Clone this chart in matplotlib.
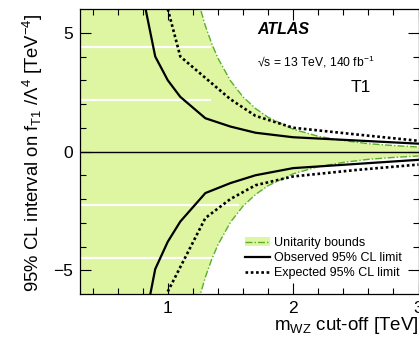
import matplotlib
matplotlib.use("Agg")
import matplotlib.pyplot as plt
from matplotlib.patches import Patch
from matplotlib.lines import Line2D

plt.rcParams['font.family'] = ['Liberation Sans', 'DejaVu Sans']
plt.rcParams['mathtext.fontset'] = 'custom'
plt.rcParams['mathtext.rm'] = 'Liberation Sans'
plt.rcParams['mathtext.it'] = 'Liberation Sans:italic'
plt.rcParams['mathtext.bf'] = 'Liberation Sans:bold'

# --- data ---
ub_mass = [0.3, 1.0, 1.1, 1.15, 1.2, 1.25, 1.3, 1.35, 1.4, 1.5, 1.6, 1.7, 1.8, 2.0, 2.2, 2.4, 2.6, 2.8, 3.0]
ub_val = [20.0, 15.1, 10.3, 8.63, 7.28, 6.19, 5.29, 4.55, 3.93, 2.98, 2.30, 1.81, 1.44, 0.94, 0.64, 0.46, 0.33, 0.25, 0.19]

obs_up_mass = [0.8, 0.9, 1.0, 1.1, 1.3, 1.5, 1.7, 2.0, 3.0]
obs_up_val = [6.6, 4.0, 3.0, 2.3, 1.4, 1.05, 0.79, 0.60, 0.33]
obs_lo_mass = [0.85, 0.9, 1.0, 1.1, 1.3, 1.5, 1.7, 2.0, 3.0]
obs_lo_val = [-6.3, -4.95, -3.8, -2.95, -1.75, -1.33, -1.0, -0.70, -0.35]

exp_up_mass = [1.0, 1.1, 1.3, 1.5, 1.7, 2.0, 2.5, 3.0]
exp_up_val = [6.0, 4.0, 3.1, 2.2, 1.5, 1.0, 0.72, 0.45]
exp_lo_mass = [1.0, 1.3, 1.5, 1.7, 2.0, 2.5, 3.0]
exp_lo_val = [-5.9, -2.8, -2.0, -1.42, -1.05, -0.78, -0.55]

# white scan stripes seen in the shaded band: (y, x_end)
stripe_y = [4.41, 2.18, -2.27, -4.5]
stripe_xend = [1.34, 1.34, 1.56, 1.355]

fill_col = '#def5a2'
green_col = '#5aae2e'
dashdot = (0, (5, 1.5, 1, 1.5))

fig = plt.figure(figsize=(4.19, 3.37), dpi=100)
ax = fig.add_axes([80/419, 1 - 294/337, 338.5/419, 285/337])

ax.fill_between(ub_mass, [-v for v in ub_val], ub_val, color=fill_col, lw=0, zorder=1)
for y, xe in zip(stripe_y, stripe_xend):
    ax.plot([0.3, xe], [y, y], color='white', lw=1.6, zorder=1.5)
ax.plot(ub_mass, ub_val, color=green_col, lw=1.0, ls=dashdot, zorder=2)
ax.plot(ub_mass, [-v for v in ub_val], color=green_col, lw=1.0, ls=dashdot, zorder=2)

ax.axhline(0, color='black', lw=1.0, zorder=2)

ax.plot(obs_up_mass, obs_up_val, color='black', lw=1.6, zorder=3)
ax.plot(obs_lo_mass, obs_lo_val, color='black', lw=1.6, zorder=3)
ax.plot(exp_up_mass, exp_up_val, color='black', lw=1.9, ls=(0, (1, 1)), zorder=3)
ax.plot(exp_lo_mass, exp_lo_val, color='black', lw=1.9, ls=(0, (1, 1)), zorder=3)

ax.set_xlim(0.3, 3.0)
ax.set_ylim(-6, 6)
ax.set_xticks([1, 2, 3])
ax.set_xticklabels(['1', '2', '3'])
ax.set_xticks([0.4, 0.6, 0.8, 1.2, 1.4, 1.6, 1.8, 2.2, 2.4, 2.6, 2.8], minor=True)
ax.set_yticks([-5, 0, 5])
ax.set_yticklabels(['\u22125', '0', '5'])
ax.set_yticks([-4, -3, -2, -1, 1, 2, 3, 4], minor=True)
ax.tick_params(which='both', direction='in', top=True, right=True, labelsize=12.5, width=0.8)
ax.tick_params(axis='x', pad=5)
ax.tick_params(axis='y', pad=5)
ax.tick_params(which='major', length=8)
ax.tick_params(which='minor', length=4)
for s in ax.spines.values():
    s.set_linewidth(0.9)

fig.text(419/419, 1 - 325.5/337, r'm$_{\mathrm{WZ}}$ cut-off [TeV]', ha='right', va='center', fontsize=13.5)
fig.text(33/419, 1 - 153/337, r'95% CL interval on f$_{\mathrm{T1}}$ /$\Lambda^{4}$ [TeV$^{-4}$]',
         rotation=90, ha='center', va='center', fontsize=13.3)

ax.text(257/419, 1 - 30/337, 'ATLAS', transform=fig.transFigure, fontsize=11.5,
        fontweight='bold', fontstyle='italic', va='center', ha='left')
ax.text(257/419, 1 - 62/337, '\u221as = 13 TeV, 140 fb$^{-1}$', transform=fig.transFigure,
        fontsize=8.7, va='center', ha='left')
ax.text(361/419, 1 - 88/337, 'T1', transform=fig.transFigure, fontsize=12.5, va='center', ha='center')

h_ub = (Patch(facecolor=fill_col, edgecolor='none'),
        Line2D([], [], color=green_col, lw=1.0, ls=dashdot))
h_obs = Line2D([], [], color='black', lw=1.6)
h_exp = Line2D([], [], color='black', lw=1.9, ls=(0, (1, 1)))
leg = ax.legend([h_ub, h_obs, h_exp], ['Unitarity bounds', 'Observed 95% CL limit', 'Expected 95% CL limit'],
                loc='upper left', bbox_to_anchor=(245/419, 1 - 237/337), bbox_transform=fig.transFigure,
                frameon=False, fontsize=9, handlelength=2.0, handletextpad=0.35, labelspacing=0.25,
                borderpad=0, borderaxespad=0)

fig.savefig('out.png', dpi=100)
